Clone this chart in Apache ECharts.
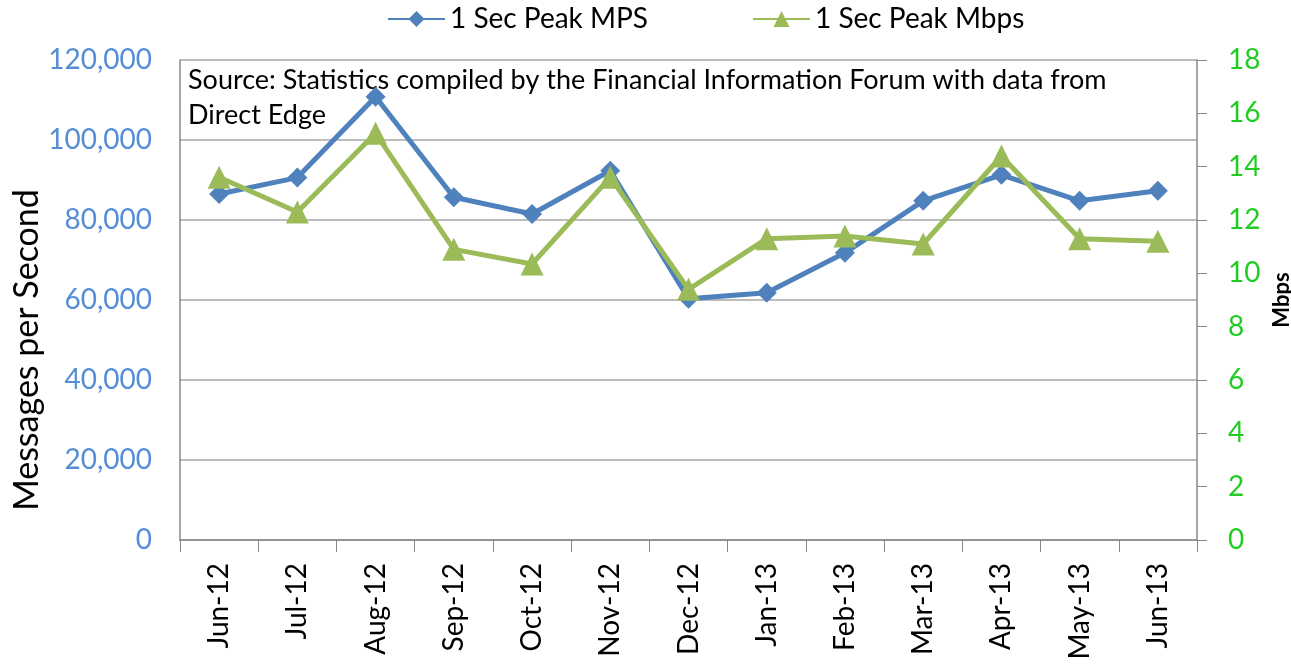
<!DOCTYPE html>
<html>
<head>
<meta charset="utf-8">
<script src="https://cdn.jsdelivr.net/npm/echarts@6/dist/echarts.min.js"></script>
<style>
  html, body { margin: 0; padding: 0; background: #fff; }
  #main { width: 1291px; height: 665px; }
</style>
</head>
<body>
<div id="main"></div>
<script>
// months on the x axis
const months = ['Jun-12', 'Jul-12', 'Aug-12', 'Sep-12', 'Oct-12', 'Nov-12', 'Dec-12',
                'Jan-13', 'Feb-13', 'Mar-13', 'Apr-13', 'May-13', 'Jun-13'];
// 1 sec peak messages per second (left axis)
const peakMps = [86500, 90600, 110800, 85700, 81500, 92300, 60300,
                 61800, 71800, 84800, 91300, 84800, 87300];
// 1 sec peak Mbps (right axis)
const peakMbps = [13.6, 12.3, 15.25, 10.9, 10.35, 13.6, 9.4,
                  11.3, 11.4, 11.1, 14.4, 11.3, 11.2];

const blue = '#4F81BD';
const green = '#9BBB59';
const font = 'Lato, "Open Sans", sans-serif';

const chart = echarts.init(document.getElementById('main'));
chart.setOption({
    animation: false,
    textStyle: { fontFamily: font },
    legend: {
        top: 0,
        left: 382,
        itemWidth: 57,
        itemHeight: 20,
        itemGap: 104,
        textStyle: { fontSize: 28, color: '#000', fontFamily: font },
        data: ['1 Sec Peak MPS', '1 Sec Peak Mbps']
    },
    grid: { left: 180, right: 94, top: 60, bottom: 125, containLabel: false, outerBoundsMode: 'none' },
    graphic: [{
        type: 'text',
        left: 188,
        top: 63,
        style: {
            text: 'Source: Statistics compiled by the Financial Information Forum with data from\nDirect Edge',
            font: '27px ' + font,
            fill: '#000',
            lineHeight: 35
        }
    }, {
        // left axis title, placed by hand like the original
        type: 'text',
        x: 27,
        y: 350,
        rotation: Math.PI / 2,
        style: {
            text: 'Messages per Second',
            font: '34px ' + font,
            fill: '#000',
            align: 'center',
            verticalAlign: 'middle'
        }
    }],
    xAxis: {
        type: 'category',
        data: months,
        boundaryGap: true,
        axisLine: { lineStyle: { color: '#888', width: 1.5 } },
        axisTick: { show: true, length: 12, lineStyle: { color: '#888' } },
        axisLabel: { rotate: 90, margin: 23, fontSize: 28, color: '#000', fontFamily: font }
    },
    yAxis: [{
        type: 'value',
        min: 0, max: 120000, interval: 20000,
        axisLine: { show: true, lineStyle: { color: '#888', width: 1.5 } },
        axisTick: { show: false },
        axisLabel: {
            fontSize: 28, color: '#558ED5', margin: 28,
            formatter: v => v.toLocaleString('en-US')
        },
        splitLine: { lineStyle: { color: '#A6A6A6', width: 1.5 } }
    }, {
        type: 'value',
        min: 0, max: 18, interval: 2,
        name: 'Mbps',
        nameLocation: 'middle',
        nameGap: 70,
        nameRotate: 90,
        nameTextStyle: { fontSize: 22, fontWeight: 'bold', color: '#000', fontFamily: font },
        axisLine: { show: true, lineStyle: { color: '#888', width: 1.5 } },
        axisTick: { show: true, length: 10, lineStyle: { color: '#888' } },
        axisLabel: { fontSize: 28, color: '#22CC22', margin: 31 },
        splitLine: { show: false }
    }],
    series: [{
        name: '1 Sec Peak MPS',
        type: 'line',
        yAxisIndex: 0,
        data: peakMps,
        symbol: 'diamond',
        symbolSize: 20,
        lineStyle: { color: blue, width: 5 },
        itemStyle: { color: blue }
    }, {
        name: '1 Sec Peak Mbps',
        type: 'line',
        yAxisIndex: 1,
        data: peakMbps,
        symbol: 'triangle',
        symbolSize: 23,
        lineStyle: { color: green, width: 5 },
        itemStyle: { color: green }
    }]
});
</script>
</body>
</html>
